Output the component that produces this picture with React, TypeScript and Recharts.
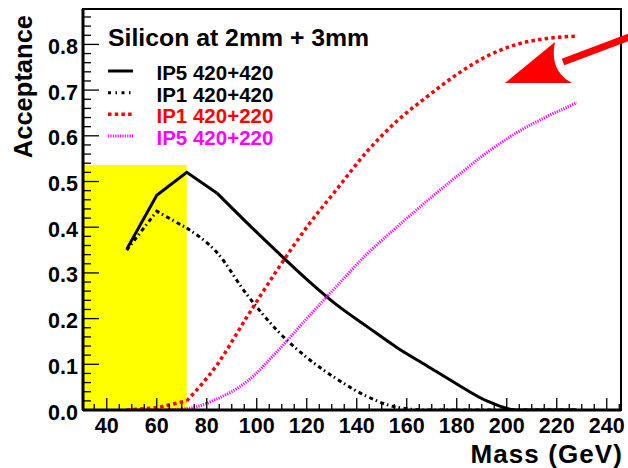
import React from 'react';
import { LineChart, Line, XAxis, YAxis, ReferenceArea, ReferenceDot, Legend, Label } from 'recharts';

// ---------- data ----------
const masses = [48, 60, 72, 84, 96, 108, 120, 132, 144, 156, 168, 180, 192, 204, 216, 228];
const ip5_420_420 = [0.352, 0.47, 0.52, 0.475, 0.41, 0.347, 0.286, 0.23, 0.183, 0.137, 0.097, 0.057, 0.02, 0, 0, 0];
const ip1_420_420 = [0.35, 0.435, 0.398, 0.345, 0.253, 0.175, 0.115, 0.068, 0.03, 0.006, 0, 0, 0, 0, 0, 0];
const ip1_420_220 = [0, 0.005, 0.02, 0.098, 0.203, 0.305, 0.4, 0.483, 0.565, 0.632, 0.685, 0.734, 0.774, 0.8, 0.813, 0.818];
const ip5_420_220 = [0, 0, 0.003, 0.024, 0.062, 0.127, 0.2, 0.271, 0.341, 0.4, 0.457, 0.511, 0.563, 0.607, 0.642, 0.672];

const seriesNames = ['IP5 420+420', 'IP1 420+420', 'IP1 420+220', 'IP5 420+220'];
const legendTitle = 'Silicon at 2mm + 3mm';
const xTitle = 'Mass (GeV)';
const yTitle = 'Acceptance';

const xMajorTicks = [40, 60, 80, 100, 120, 140, 160, 180, 200, 220, 240];
const yMajorTicks = [0, 0.1, 0.2, 0.3, 0.4, 0.5, 0.6, 0.7, 0.8];
const xDomain = [30.5, 245.7];
const yDomain = [0, 0.8775];
const highlightX = [30.5, 72];
const highlightY = [0, 0.536];
const arrowTip = { x: 199.3, y: 0.7156 };

const xTicks: number[] = [];
for (let v = 35; v <= 245; v += 5) xTicks.push(v);
const yTicks: number[] = [];
for (let i = 0; i <= 43; i++) yTicks.push(+(i * 0.02).toFixed(2));

const FONT = '"Liberation Sans", Arial, Helvetica, sans-serif';

// each series: straight segments up to `split`, smooth curve afterwards
const styles = [
  { key: 'a', values: ip5_420_420, split: 84, color: '#000000', dash: undefined as string | undefined, width: 3, legendDash: undefined as string | undefined },
  { key: 'b', values: ip1_420_420, split: 72, color: '#000000', dash: '4 3 1.5 3.5', width: 3, legendDash: '3 4.5 1.5 4.5' },
  { key: 'c', values: ip1_420_220, split: 72, color: '#ff0000', dash: '3.5 3.2', width: 3.5, legendDash: '3.5 3.2' },
  { key: 'd', values: ip5_420_220, split: 48, color: '#ff00ff', dash: '1.2 1.2', width: 3, legendDash: '1.2 1.2' },
];

const data = masses.map((m, i) => {
  const row: Record<string, number | null> = { mass: m };
  styles.forEach((s) => {
    row[s.key + 'h'] = m <= s.split ? s.values[i] : null;
    row[s.key + 't'] = m >= s.split ? s.values[i] : null;
  });
  return row;
});

// ---------- ticks ----------
const XTick = (props: any) => {
  const { x, y, payload } = props;
  const v = payload.value;
  const major = xMajorTicks.includes(v);
  return (
    <g>
      <line x1={x} x2={x} y1={y} y2={y - (major ? 12 : 6)} stroke="#000" strokeWidth={1.3} />
      {major && (
        <text x={x} y={y + 23} textAnchor="middle" fontSize={21.5} fontWeight="bold" fontFamily={FONT} fill="#000">
          {v}
        </text>
      )}
    </g>
  );
};

const YTick = (props: any) => {
  const { x, y, payload } = props;
  const v = payload.value;
  const major = yMajorTicks.some((t) => Math.abs(t - v) < 1e-6);
  return (
    <g>
      <line x1={x} x2={x + (major ? 16 : 8)} y1={y} y2={y} stroke="#000" strokeWidth={1.3} />
      {major && (
        <text x={x - 5} y={y + 9.5} textAnchor="end" fontSize={21.5} fontWeight="bold" fontFamily={FONT} fill="#000">
          {v.toFixed(1)}
        </text>
      )}
    </g>
  );
};

const XTitle = (props: any) => {
  const vb = props.viewBox || { x: 83, y: 410, width: 538, height: 58 };
  return (
    <text
      x={vb.x + vb.width + 2}
      y={vb.y + 53}
      textAnchor="end"
      fontSize={26}
      fontWeight="bold"
      fontFamily={FONT}
      letterSpacing={1.1}
      fill="#000"
    >
      {xTitle}
    </text>
  );
};

const YTitle = (props: any) => {
  const vb = props.viewBox || { x: 0, y: 9, width: 83, height: 401 };
  const tx = vb.x + 31.5;
  const ty = vb.y + 6;
  return (
    <text
      x={tx}
      y={ty}
      transform={`rotate(-90 ${tx} ${ty})`}
      textAnchor="end"
      fontSize={25.5}
      fontWeight="bold"
      fontFamily={FONT}
      fill="#000"
    >
      {yTitle}
    </text>
  );
};

// ---------- legend ----------
const LegendBox = () => {
  const baselines = [80, 101.7, 123.3, 145];
  return (
    <svg width={628} height={160} style={{ display: 'block' }}>
      <text x={108} y={46} fontSize={24.8} fontWeight="bold" fontFamily={FONT} fill="#000">
        {legendTitle}
      </text>
      {styles.map((s, i) => (
        <g key={s.key}>
          <line
            x1={108}
            x2={133}
            y1={baselines[i] - 9}
            y2={baselines[i] - 9}
            stroke={s.color}
            strokeWidth={s.width}
            strokeDasharray={s.legendDash}
          />
          <text x={156.5} y={baselines[i]} fontSize={20.5} fontWeight="bold" fontFamily={FONT} fill={s.color}>
            {seriesNames[i]}
          </text>
        </g>
      ))}
    </svg>
  );
};

// ---------- arrow annotation ----------
const ArrowShape = (props: any) => {
  const { cx, cy } = props;
  if (cx == null || cy == null) return null;
  return (
    <g>
      <line x1={cx + 58} y1={cy - 21} x2={cx + 140} y2={cy - 52} stroke="#ff0000" strokeWidth={7} />
      <path
        d={`M${cx + 50},${cy - 41} Q${cx + 44},${cy - 12} ${cx + 67},${cy}`}
        fill="none"
        stroke="#ffffff"
        strokeWidth={7}
      />
      <path
        d={`M${cx},${cy} L${cx + 50},${cy - 41} Q${cx + 44},${cy - 12} ${cx + 67},${cy} Z`}
        fill="#ff0000"
        stroke="none"
      />
    </g>
  );
};

export default function App() {
  return (
    <div style={{ position: 'absolute', left: 0, top: 0, background: '#fff' }}>
      <LineChart width={628} height={468} data={data} margin={{ top: 9, right: 7, bottom: 0, left: 0 }}>
        <XAxis
          type="number"
          dataKey="mass"
          domain={xDomain}
          allowDataOverflow
          ticks={xTicks}
          interval={0}
          tickSize={0}
          tickMargin={0}
          tickLine={false}
          tick={<XTick />}
          axisLine={{ stroke: '#000', strokeWidth: 3 }}
          height={58}
        >
          <Label content={<XTitle />} />
        </XAxis>
        <YAxis
          type="number"
          domain={yDomain}
          allowDataOverflow
          ticks={yTicks}
          interval={0}
          tickSize={0}
          tickMargin={0}
          tickLine={false}
          tick={<YTick />}
          axisLine={{ stroke: '#000', strokeWidth: 3 }}
          width={83}
        >
          <Label content={<YTitle />} />
        </YAxis>
        <ReferenceArea
          x1={highlightX[0]}
          x2={highlightX[1]}
          y1={highlightY[0]}
          y2={highlightY[1]}
          fill="#ffff00"
          fillOpacity={1}
          stroke="none"
          ifOverflow="hidden"
        />
        {styles.map((s) => [
          <Line
            key={s.key + 'h'}
            type="linear"
            dataKey={s.key + 'h'}
            stroke={s.color}
            strokeWidth={s.width}
            strokeDasharray={s.dash}
            dot={false}
            activeDot={false}
            isAnimationActive={false}
            legendType="none"
          />,
          <Line
            key={s.key + 't'}
            type="monotone"
            dataKey={s.key + 't'}
            stroke={s.color}
            strokeWidth={s.width}
            strokeDasharray={s.dash}
            dot={false}
            activeDot={false}
            isAnimationActive={false}
            legendType="none"
          />,
        ])}
        <ReferenceArea
          x1={xDomain[0]}
          x2={xDomain[1]}
          y1={yDomain[0]}
          y2={yDomain[1]}
          fill="none"
          stroke="#000"
          strokeWidth={2}
          ifOverflow="visible"
        />
        <ReferenceDot x={arrowTip.x} y={arrowTip.y} r={1} shape={<ArrowShape />} ifOverflow="visible" />
        <Legend
          layout="horizontal"
          verticalAlign="middle"
          align="center"
          content={<LegendBox />}
          wrapperStyle={{ position: 'absolute', left: 0, top: 0, width: 628, height: 160, pointerEvents: 'none' }}
        />
      </LineChart>
    </div>
  );
}
